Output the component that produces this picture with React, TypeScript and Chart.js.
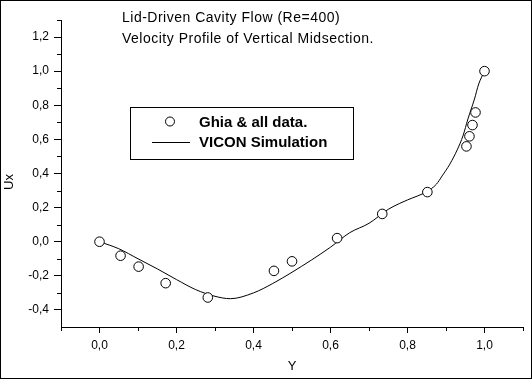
import React, { useEffect, useRef } from "react";
import { Chart, registerables } from "chart.js";

Chart.register(...registerables);

// Ghia et al. reference data (vertical midsection, Re=400)
const ghiaY = [0.0, 0.0547, 0.1016, 0.1719, 0.2813, 0.4531, 0.5, 0.6172, 0.7344, 0.8516, 0.9531, 0.9609, 0.9688, 0.9766, 1.0];
const ghiaUx = [0.0, -0.082, -0.146, -0.243, -0.327, -0.171, -0.115, 0.021, 0.163, 0.291, 0.559, 0.618, 0.684, 0.758, 1.0];

// VICON simulation curve
const simY = [0.0, 0.05, 0.1, 0.15, 0.2, 0.25, 0.3, 0.34, 0.4, 0.45, 0.5, 0.55, 0.6, 0.65, 0.7, 0.75, 0.78, 0.8, 0.85, 0.875, 0.89, 0.91, 0.93, 0.944, 0.957, 0.974, 0.985, 1.0];
const simUx = [0.0, -0.041, -0.1, -0.159, -0.222, -0.281, -0.32, -0.334, -0.3, -0.245, -0.179, -0.108, -0.032, 0.053, 0.108, 0.19, 0.225, 0.245, 0.294, 0.337, 0.386, 0.455, 0.543, 0.62, 0.72, 0.837, 0.925, 1.0];

const xTicks = [0, 0.2, 0.4, 0.6, 0.8, 1.0];
const yTicks = [-0.4, -0.2, 0, 0.2, 0.4, 0.6, 0.8, 1.0, 1.2];
const xMinorTicks = [-0.1, 0.1, 0.3, 0.5, 0.7, 0.9, 1.1];
const yMinorTicks = [-0.3, -0.1, 0.1, 0.3, 0.5, 0.7, 0.9, 1.1, 1.3];

const titleLines = ["Lid-Driven Cavity Flow (Re=400)", "Velocity Profile of Vertical Midsection."];
const xTitle = "Y";
const yTitle = "Ux";
const legendLabels = ["Ghia & all data.", "VICON Simulation"];

const FONT = "'Liberation Sans', Arial, sans-serif";
const fmt = (v: number) => (Math.abs(v) < 1e-9 ? 0 : v).toFixed(1).replace(".", ",");

export default function App() {
  const ref = useRef<HTMLCanvasElement | null>(null);
  useEffect(() => {
    document.body.style.margin = "0";
    const canvas = ref.current;
    if (!canvas) return;

    const decor = {
      id: "decor",
      afterDraw(chart: any) {
        const ctx = chart.ctx as any;
        const xs = chart.scales.x;
        const ys = chart.scales.y;
        const area = chart.chartArea;
        ctx.save();
        ctx.strokeStyle = "#000";
        ctx.lineWidth = 1;
        // minor ticks
        ctx.beginPath();
        xMinorTicks.forEach((v) => {
          const px = Math.round(xs.getPixelForValue(v)) + 0.5;
          ctx.moveTo(px, area.bottom);
          ctx.lineTo(px, area.bottom + 4);
        });
        yMinorTicks.forEach((v) => {
          const py = Math.round(ys.getPixelForValue(v)) + 0.5;
          ctx.moveTo(area.left - 4, py);
          ctx.lineTo(area.left, py);
        });
        ctx.stroke();

        // outer frame
        ctx.strokeRect(0.5, 0.5, chart.width - 1, chart.height - 1);

        // titles
        ctx.fillStyle = "#000";
        ctx.font = `14px ${FONT}`;
        ctx.textAlign = "left";
        ctx.textBaseline = "middle";
        ctx.letterSpacing = "0.5px";
        ctx.fillText(titleLines[0], 122, 18.5);
        ctx.fillText(titleLines[1], 122, 39.5);
        ctx.letterSpacing = "0px";

        // axis titles
        ctx.font = `13px ${FONT}`;
        ctx.textAlign = "center";
        ctx.fillText(xTitle, (area.left + area.right) / 2, 366);
        ctx.save();
        ctx.translate(9, 182);
        ctx.rotate(-Math.PI / 2);
        ctx.fillText(yTitle, 0, 0);
        ctx.restore();

        // legend
        ctx.strokeRect(130.5, 107.5, 223, 52);
        ctx.beginPath();
        ctx.arc(170, 121.5, 4.5, 0, Math.PI * 2);
        ctx.fillStyle = "#fff";
        ctx.fill();
        ctx.stroke();
        ctx.beginPath();
        ctx.moveTo(152, 142.5);
        ctx.lineTo(190, 142.5);
        ctx.stroke();
        ctx.fillStyle = "#000";
        ctx.font = `bold 15px ${FONT}`;
        ctx.textAlign = "left";
        ctx.fillText(legendLabels[0], 199, 122.5);
        ctx.fillText(legendLabels[1], 199, 142.5);
        ctx.restore();
      },
    };

    const chart = new Chart(canvas, {
      type: "scatter",
      data: {
        datasets: [
          {
            label: legendLabels[0],
            data: ghiaY.map((x, i) => ({ x, y: ghiaUx[i] })),
            pointStyle: "circle",
            pointRadius: 4.8,
            borderColor: "#000",
            backgroundColor: "#fff",
            borderWidth: 1,
            showLine: false,
            order: 0,
          },
          {
            label: legendLabels[1],
            type: "line",
            data: simY.map((x, i) => ({ x, y: simUx[i] })),
            borderColor: "#000",
            borderWidth: 1,
            pointRadius: 0,
            showLine: true,
            fill: false,
            cubicInterpolationMode: "monotone",
            order: 1,
          } as any,
        ],
      },
      options: {
        responsive: false,
        animation: false,
        events: [],
        layout: { padding: { left: 0, top: 20, right: 9, bottom: 0 } },
        plugins: { legend: { display: false }, tooltip: { enabled: false }, title: { display: false } },
        scales: {
          x: {
            type: "linear",
            min: -0.1,
            max: 1.1,
            afterBuildTicks: (s: any) => {
              s.ticks = xTicks.map((v) => ({ value: v }));
            },
            afterFit: (s: any) => {
              s.height = 52;
            },
            ticks: {
              callback: (v: any) => fmt(Number(v)),
              color: "#000",
              font: { family: FONT, size: 12 },
              padding: 5,
              maxRotation: 0,
              autoSkip: false,
            },
            grid: { drawOnChartArea: false, drawTicks: true, tickLength: 6, tickColor: "#000", color: "#000" },
            border: { color: "#000", width: 1 },
          },
          y: {
            type: "linear",
            min: -0.5,
            max: 1.3,
            afterBuildTicks: (s: any) => {
              s.ticks = yTicks.map((v) => ({ value: v }));
            },
            afterFit: (s: any) => {
              s.width = 61;
            },
            ticks: {
              callback: (v: any) => fmt(Number(v)),
              color: "#000",
              font: { family: FONT, size: 12 },
              padding: 5,
              autoSkip: false,
            },
            grid: { drawOnChartArea: false, drawTicks: true, tickLength: 7, tickColor: "#000", color: "#000" },
            border: { color: "#000", width: 1 },
          },
        },
      },
      plugins: [decor],
    } as any);
    return () => chart.destroy();
  }, []);
  return <canvas ref={ref} width={532} height={379} style={{ display: "block" }} />;
}
